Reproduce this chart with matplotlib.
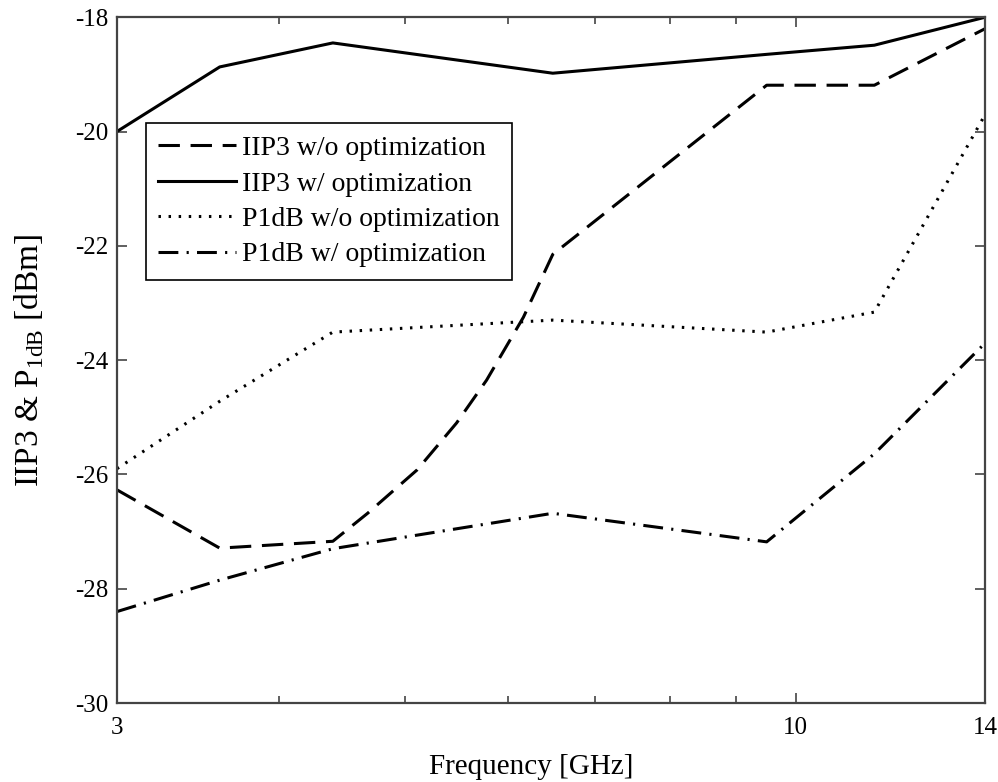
import matplotlib
matplotlib.use("Agg")
import matplotlib.pyplot as plt
from matplotlib.ticker import FixedLocator, NullFormatter, FixedFormatter

# Frequency sweep points (GHz)
freq = [3.0, 3.6, 4.4, 6.5, 9.5, 11.5, 14.0]
freq_iip3_no_opt = [3.0, 3.6, 4.4, 4.68, 5.11, 5.48, 5.78, 6.17, 6.5, 9.5, 11.5, 14.0]

# Linearity metrics (dBm)
iip3_no_opt = [-26.27, -27.29, -27.17, -26.68, -25.92, -25.10, -24.35, -23.25,
               -22.15, -19.19, -19.19, -18.2]
iip3_opt = [-20.0, -18.87, -18.45, -18.98, -18.65, -18.49, -18.0]
p1db_no_opt = [-25.9, -24.72, -23.51, -23.3, -23.51, -23.16, -19.7]
p1db_opt = [-28.4, -27.85, -27.3, -26.68, -27.18, -25.64, -23.7]

labels = ["IIP3 w/o optimization", "IIP3 w/ optimization",
          "P1dB w/o optimization", "P1dB w/ optimization"]

major_x = [3, 10, 14]
minor_x = [4, 5, 6, 7, 8, 9]
y_ticks = [-30, -28, -26, -24, -22, -20, -18]

plt.rcParams['font.family'] = ['Liberation Serif', 'DejaVu Serif']
plt.rcParams['mathtext.fontset'] = 'custom'
plt.rcParams['mathtext.rm'] = 'Liberation Serif'

fig = plt.figure(figsize=(9.98, 7.82), dpi=100)
ax = fig.add_axes([0.1172, 0.101, 0.870, 0.877])

lw = 2.2
ax.plot(freq_iip3_no_opt, iip3_no_opt, color='black', lw=lw, dashes=(7, 3.5),
        label=labels[0])
ax.plot(freq, iip3_opt, color='black', lw=lw, linestyle='-', label=labels[1])
ax.plot(freq, p1db_no_opt, color='black', lw=lw, dashes=(0.8, 2.5),
        dash_capstyle='butt', label=labels[2])
ax.plot(freq, p1db_opt, color='black', lw=lw, dashes=(6.5, 2.7, 0.7, 2.7),
        label=labels[3])

ax.set_xscale('log')
ax.set_xlim(3, 14)
ax.set_ylim(-30, -18)
ax.xaxis.set_major_locator(FixedLocator(major_x))
ax.xaxis.set_major_formatter(FixedFormatter([str(v) for v in major_x]))
ax.xaxis.set_minor_locator(FixedLocator(minor_x))
ax.xaxis.set_minor_formatter(NullFormatter())
ax.set_yticks(y_ticks)
ax.set_yticklabels([str(v) for v in y_ticks])

for s in ax.spines.values():
    s.set_color('#444444')
    s.set_linewidth(1.6)

ax.tick_params(which='both', direction='in', top=True, right=True,
               color='#444444', labelsize=18)
ax.tick_params(axis='x', pad=10)
ax.tick_params(axis='y', pad=6)
ax.tick_params(which='major', length=7, width=1.2)
ax.tick_params(which='minor', length=5, width=1.2)

ax.set_xlabel('Frequency [GHz]', fontsize=21)
ax.set_ylabel(r'IIP3 & P$_{\mathrm{1dB}}$ [dBm]', fontsize=24)
ax.xaxis.set_label_coords(0.477, -0.075)
ax.yaxis.set_label_coords(-0.082, 0.5)

leg = ax.legend(loc='upper left', bbox_to_anchor=(0.0334, 0.8455), fontsize=20,
                handlelength=2.8, handletextpad=0.2, borderpad=0.45,
                labelspacing=0.36, fancybox=False, framealpha=1,
                edgecolor='black', borderaxespad=0)
leg.get_frame().set_linewidth(1.2)

fig.savefig('out.png', dpi=100)
